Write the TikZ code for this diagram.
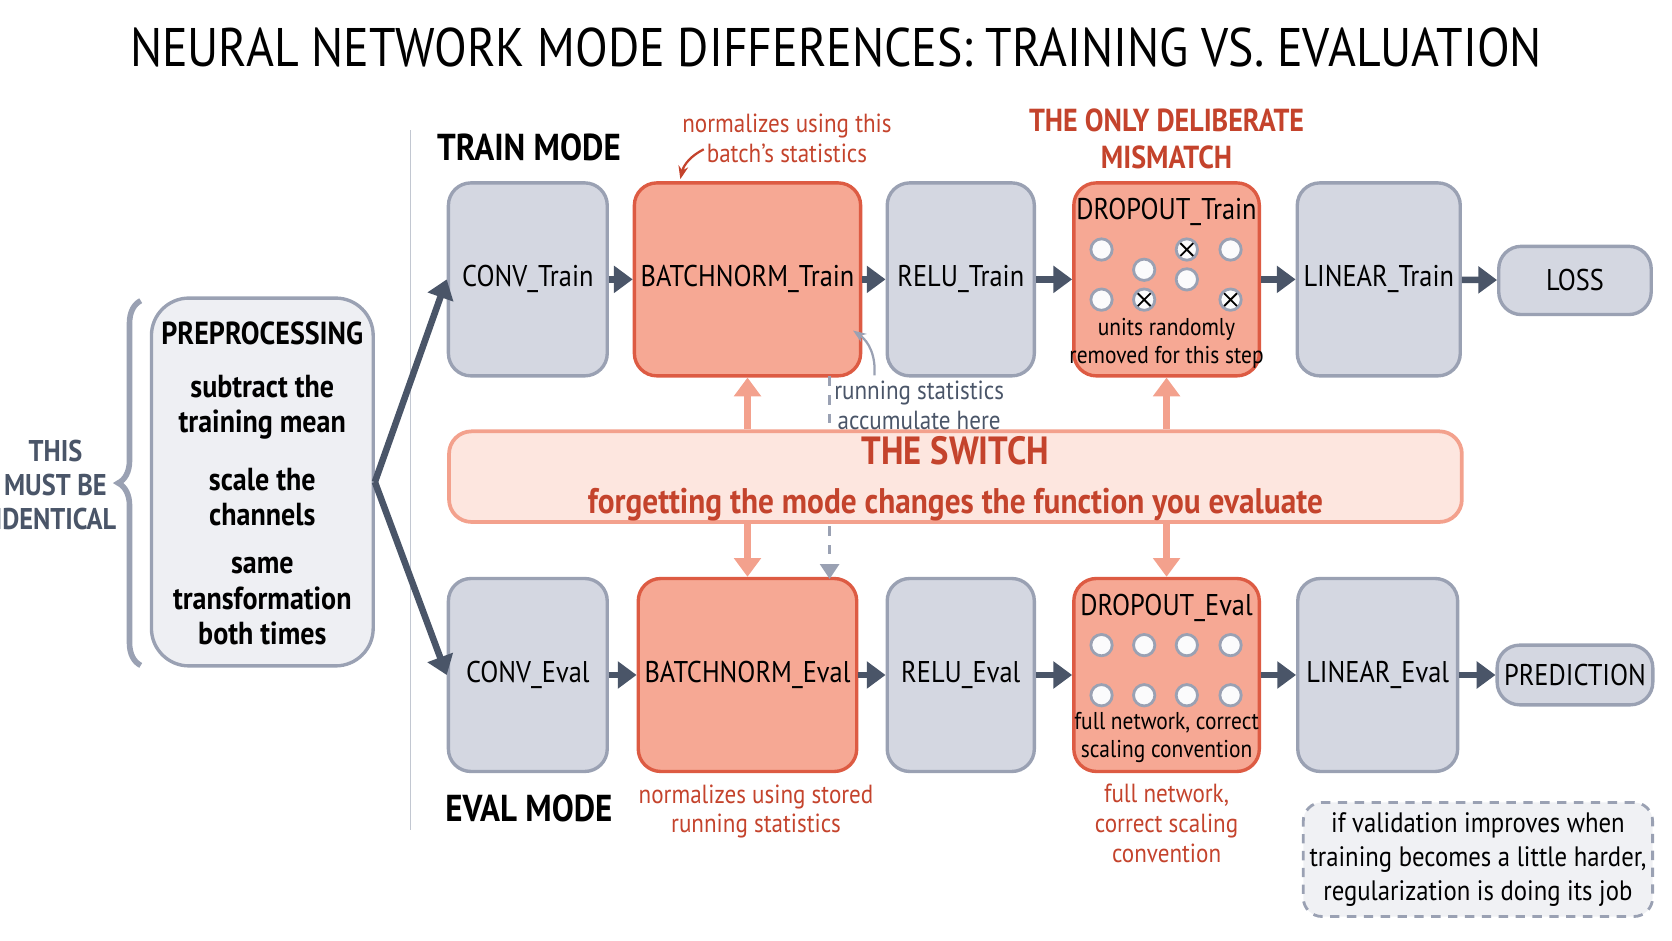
\documentclass[tikz,border=0pt]{standalone}
\usepackage{fontspec}
\setmainfont{PT Sans}[FakeStretch=0.88]
\usetikzlibrary{positioning,arrows.meta,decorations.pathreplacing}
\definecolor{boxgray}{HTML}{D4D7E1}
\definecolor{edgegray}{HTML}{9AA1B3}
\definecolor{boxorange}{HTML}{F6A894}
\definecolor{edgeorange}{HTML}{DD5B43}
\definecolor{txtorange}{HTML}{C4432C}
\definecolor{switchfill}{HTML}{FDE6DF}
\definecolor{switchedge}{HTML}{F3A18D}
\definecolor{slate}{HTML}{4A5568}
\tikzset{
	layer/.style = {
		draw=edgegray, fill=boxgray, line width=1.8pt, rounded corners=12pt,
		minimum height=3.62cm, align=center, font=\fontsize{16}{19}\selectfont
	}
}
\tikzset{
	hot/.style = {
		layer, draw=edgeorange, fill=boxorange
	}
}
\tikzset{
	flow/.style = {
		slate, line width=3.5pt, -{Triangle[length=10pt,width=14pt]}
	}
}
\tikzset{
	toggle/.style = {
		switchedge, line width=3.5pt, -{Triangle[length=10pt,width=14pt]}
	}
}
\tikzset{
	note/.style = {
		align=center, font=\fontsize{14}{16}\selectfont
	}
}
\tikzset{
	unit/.style = {
		circle, draw=edgegray, fill=white!90!boxgray, line width=1.5pt, minimum size=0.4cm, inner sep=0pt
	}
}
\tikzset{
	dropped/.style = {
		unit, path picture={\draw[black, line width=1pt] (path picture bounding box.south west) -- (path picture bounding box.north east) (path picture bounding box.north west) -- (path picture bounding box.south east);}
	}
}

\begin{document}
\begin{tikzpicture}[x=0.02cm, y=-0.02cm]
	\node[font=\fontsize{29}{34}\selectfont] (Title) at (784,45) {NEURAL NETWORK MODE DIFFERENCES: TRAINING VS. EVALUATION};
	\draw[edgegray!60, line width=1pt] (385,122) -- (385,778);

	% preprocessing
	\node[layer, fill=boxgray!40, minimum width=4.16cm, minimum height=6.9cm, rounded corners=20pt] (Preproc) at (246,452) {};
	\node[font=\bfseries\fontsize{17}{20}\selectfont] at (246,313) {PREPROCESSING};
	\node[align=center, font=\bfseries\fontsize{17}{19}\selectfont] at (246,382) {subtract the\\training mean};
	\node[align=center, font=\bfseries\fontsize{17}{19}\selectfont] at (246,466) {scale the\\channels};
	\node[align=center, font=\bfseries\fontsize{17}{19}\selectfont] at (246,564) {same\\transformation\\both times};
	\draw[edgegray, line width=3pt, decorate, decoration={brace, amplitude=12pt}] (132,624) -- (132,282);
	\node[align=center, text=slate, font=\bfseries\fontsize{16}{18}\selectfont] (Identical) at (52,455) {THIS\\MUST BE\\IDENTICAL};

	% train row
	\node[font=\bfseries\fontsize{20}{24}\selectfont] (TrainMode) at (496,138) {TRAIN MODE};
	\node[layer, minimum width=2.98cm] (ConvTrain) at (495,262) {CONV\_Train};
	\node[hot, minimum width=3.76cm] (BnTrain) at (701,262) {BATCHNORM\_Train};
	\node[layer, minimum width=2.76cm] (ReluTrain) at (901,262) {RELU\_Train};
	\node[hot, minimum width=3.48cm] (DropTrain) at (1094,262) {};
	\node[layer, minimum width=3cm] (LinTrain) at (1293,262) {LINEAR\_Train};
	\node[layer, minimum width=2.86cm, minimum height=1.28cm] (Loss) at (1477,263) {LOSS};
	\node[font=\fontsize{16}{19}\selectfont] at (1094,199) {DROPOUT\_Train};
	\node[note, font=\fontsize{13}{15}\selectfont] at (1094,322) {units randomly\\removed for this step};
	\foreach \x/\y in {1033/234, 1154/234, 1073/253, 1113/262, 1033/281}
		\node[unit] at (\x,\y) {};
	\foreach \x/\y in {1113/234, 1073/281, 1154/281}
		\node[dropped] at (\x,\y) {};

	% eval row
	\node[font=\bfseries\fontsize{20}{24}\selectfont] (EvalMode) at (496,758) {EVAL MODE};
	\node[layer, minimum width=2.98cm] (ConvEval) at (495,633) {CONV\_Eval};
	\node[hot, minimum width=3.76cm] (BnEval) at (701,633) {BATCHNORM\_Eval};
	\node[layer, minimum width=2.76cm] (ReluEval) at (901,633) {RELU\_Eval};
	\node[hot, minimum width=3.48cm] (DropEval) at (1094,633) {};
	\node[layer, minimum width=3cm] (LinEval) at (1292,633) {LINEAR\_Eval};
	\node[layer, minimum width=2.92cm, minimum height=1.12cm] (Pred) at (1477,633) {PREDICTION};
	\node[font=\fontsize{16}{19}\selectfont] at (1094,570) {DROPOUT\_Eval};
	\node[note, font=\fontsize{13}{15}\selectfont] at (1094,692) {full network, correct\\scaling convention};
	\foreach \x in {1033,1073,1113,1154} {
		\node[unit] at (\x,605) {};
		\node[unit] at (\x,652) {};
	}

	% the switch
	\draw[edgegray, line width=2pt, dash pattern=on 5pt off 5pt, -{Triangle[length=8pt,width=10pt]}] (778,353) -- (778,543);
	\node[draw=switchedge, fill=switchfill, line width=2pt, rounded corners=12pt, minimum width=19cm, minimum height=1.7cm] (Switch) at (896,447) {};
	\node[align=center, text=txtorange, font=\bfseries\fontsize{19}{26}\selectfont] at (896,449) {{\fontsize{21}{25}\selectfont THE SWITCH}\\forgetting the mode changes the function you evaluate};
	\draw[toggle] (Switch.north -| BnTrain) -- (BnTrain);
	\draw[toggle] (Switch.north -| DropTrain) -- (DropTrain);
	\draw[toggle] (Switch.south -| BnEval) -- (BnEval);
	\draw[toggle] (Switch.south -| DropEval) -- (DropEval);

	% flows
	\draw[flow] (Preproc.east) -- (ConvTrain.west);
	\draw[flow] (Preproc.east) -- (ConvEval.west);
	\foreach \a/\b in {ConvTrain/BnTrain, BnTrain/ReluTrain, ReluTrain/DropTrain, DropTrain/LinTrain, LinTrain/Loss, ConvEval/BnEval, BnEval/ReluEval, ReluEval/DropEval, DropEval/LinEval, LinEval/Pred}
		\draw[flow] (\a) -- (\b);

	% annotations
	\node[note, text=txtorange] (BatchNote) at (738,130) {normalizes using this\\batch's statistics};
	\draw[txtorange, line width=1.2pt, -{Stealth[length=7pt]}] (660,140) to[bend right=25] (638,168);
	\node[note, text=slate] (RunNote) at (862,380) {running statistics\\accumulate here};
	\draw[edgegray, line width=1.2pt, -{Stealth[length=7pt]}] (820,352) to[bend right=30] (800,310);
	\node[note, text=txtorange, font=\bfseries\fontsize{17}{20}\selectfont] (MismatchNote) at (1094,130) {THE ONLY DELIBERATE\\MISMATCH};
	\node[note, text=txtorange] (StoredNote) at (709,761) {normalizes using stored\\running statistics};
	\node[note, text=txtorange] (FullNote) at (1094,772) {full network,\\correct scaling\\convention};
	\node[note, font=\fontsize{15}{18}\selectfont, draw=edgegray, fill=boxgray!35, line width=1.5pt, dash pattern=on 5pt off 4pt, rounded corners=10pt, minimum width=6.54cm, minimum height=2.14cm] (Validation) at (1386,806) {if validation improves when\\training becomes a little harder,\\regularization is doing its job};
	\pgfresetboundingbox
	\useasboundingbox (0,0) rectangle (1568,882);
\end{tikzpicture}
\end{document}
